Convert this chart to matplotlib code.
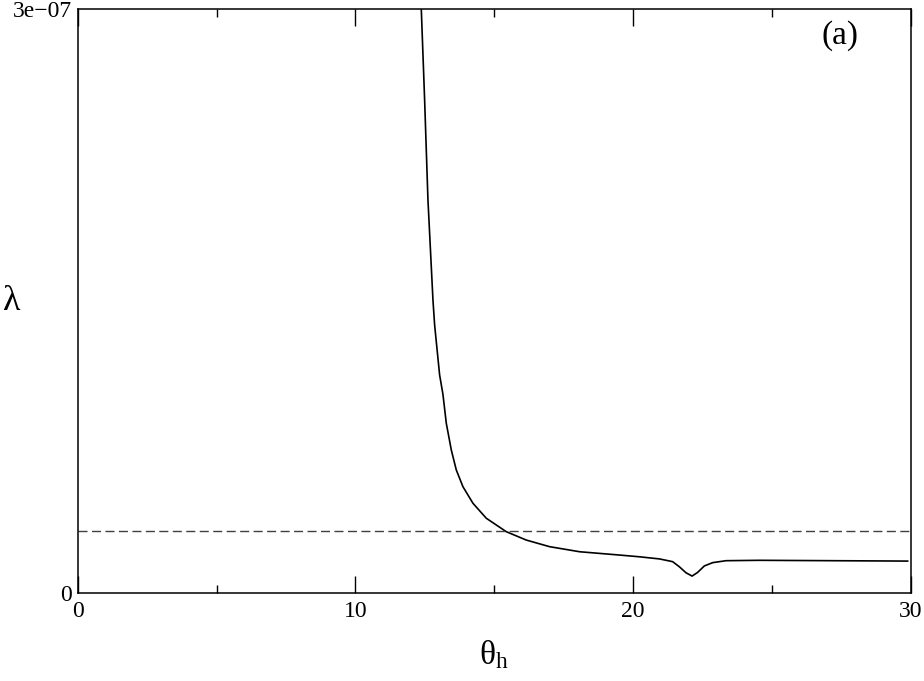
import numpy as np
import matplotlib
matplotlib.use('Agg')
import matplotlib.pyplot as plt

plt.rcParams['font.family'] = ['Liberation Serif', 'DejaVu Serif']
plt.rcParams['mathtext.fontset'] = 'stix'

# lambda(theta_h), lambda in units of 1e-8
theta = [12.37, 12.49, 12.61, 12.79, 12.85, 12.94, 13.03, 13.15, 13.27, 13.45,
         13.63, 13.87, 14.23, 14.71, 15.43, 16.15, 16.99, 18.07, 19.51, 20.23,
         20.95, 21.42, 21.66, 21.90, 22.12, 22.32, 22.56, 22.86, 23.34, 24.54,
         29.88]
lam = [30.0, 25.33, 20.19, 15.05, 13.77, 12.48, 11.20, 10.2, 8.72, 7.35,
       6.32, 5.46, 4.61, 3.84, 3.15, 2.72, 2.38, 2.12, 1.95, 1.86,
       1.75, 1.61, 1.35, 1.04, 0.87, 1.06, 1.39, 1.56, 1.66, 1.68,
       1.64]
threshold = 3.16  # dashed level, 1e-8

x_ticks = [0, 10, 20, 30]
x_minor = [5, 15, 25]
y_ticks = [0, 3e-7]
y_labels = ['0', '3e\u221207']

fig = plt.figure(figsize=(9.24, 6.81), dpi=100)
ax = fig.add_axes([0.0841, 0.1292, 0.9018, 0.8576])

ax.plot(theta, np.array(lam) * 1e-8, color='black', lw=1.2)
ax.axhline(threshold * 1e-8, color='#404040', lw=1.0, dashes=(6.5, 3.2))

ax.set_xlim(0, 30)
ax.set_ylim(0, 3e-7)
ax.set_xticks(x_ticks)
ax.set_xticks(x_minor, minor=True)
ax.set_yticks(y_ticks)
ax.set_yticklabels(y_labels)

ax.tick_params(axis='x', which='major', direction='in', length=12, width=1.0,
               top=True, labelsize=17, pad=6)
ax.tick_params(axis='x', which='minor', direction='in', length=6, width=1.0, top=True)
ax.tick_params(axis='y', which='major', length=0, labelsize=17, pad=4)
for s in ax.spines.values():
    s.set_linewidth(1.1)

ax.set_xlabel('θ$_\\mathregular{h}$', fontsize=24, labelpad=12)
ax.set_ylabel('λ', fontsize=26, rotation=0, va='center', ha='center')
ax.yaxis.set_label_coords(-0.079, 0.5)
ax.text(0.915, 0.954, '(a)', transform=ax.transAxes, fontsize=24,
        ha='center', va='center')

fig.savefig('out.png', dpi=100)
